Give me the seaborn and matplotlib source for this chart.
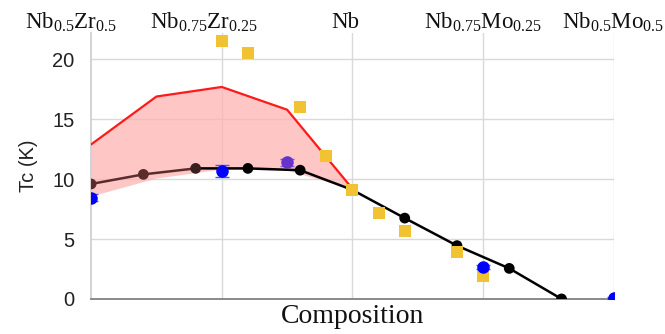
import numpy as np
import pandas as pd
import matplotlib
matplotlib.use("Agg")
import matplotlib.pyplot as plt
import matplotlib.transforms as mtransforms
import seaborn as sns

# --- Data ---
comp_calc = [-0.5, -0.4, -0.3, -0.2, -0.1, 0.0, 0.1, 0.2, 0.3, 0.4]
tc_calc = [9.6, 10.4, 10.9, 10.9, 10.75, 9.1, 6.75, 4.45, 2.55, 0.0]

comp_band = [-0.5, -0.375, -0.25, -0.125, 0.0]
tc_band_upper = [12.9, 16.9, 17.7, 15.8, 9.2]
tc_band_lower = [8.6, 10.1, 10.85, 10.75, 9.2]

comp_exp = [-0.25, -0.2, -0.1, -0.05, 0.0, 0.05, 0.1, 0.2, 0.25]
tc_exp = [21.5, 20.5, 16.0, 11.9, 9.1, 7.2, 5.7, 3.95, 1.9]

comp_blue = [-0.5, -0.25, 0.25, 0.5]
tc_blue = [8.45, 10.7, 2.65, 0.1]
err_blue = [0.3, 0.5, 0.15, 0.1]

comp_purple = [-0.125]
tc_purple = [11.4]
err_purple = [0.3]

top_labels = [r"Nb$_{0.5}$Zr$_{0.5}$", r"Nb$_{0.75}$Zr$_{0.25}$", "Nb",
              r"Nb$_{0.75}$Mo$_{0.25}$", r"Nb$_{0.5}$Mo$_{0.5}$"]
top_label_x = [-0.538, -0.284, -0.014, 0.25, 0.498]
grid_x = [-0.25, 0.0, 0.25, 0.5]

# --- Style ---
sns.set_theme(style="whitegrid")
plt.rcParams['font.family'] = ['Liberation Sans', 'DejaVu Sans']
plt.rcParams['mathtext.fontset'] = 'custom'
plt.rcParams['mathtext.rm'] = 'Liberation Serif'
plt.rcParams['mathtext.it'] = 'Liberation Serif'

fig = plt.figure(figsize=(6.65, 3.34), dpi=100)
ax = fig.add_axes([0.137, 0.105, 0.786, 0.796])

# shaded band
ax.fill_between(comp_band, tc_band_lower, tc_band_upper, color='#ffb3b3', alpha=0.75,
                linewidth=0, zorder=2)
sns.lineplot(x=comp_band, y=tc_band_upper, color='#ff1a1a', linewidth=1.6, ax=ax, zorder=3)

# calculated Tc line (brown on Zr side, black after)
brown = '#5b2c2c'
sns.lineplot(x=comp_calc[:3], y=tc_calc[:3], color=brown, linewidth=1.8, ax=ax, zorder=4)
sns.lineplot(x=comp_calc[2:], y=tc_calc[2:], color='black', linewidth=1.8, ax=ax, zorder=4)
calc_colors = [brown, brown, '#3a1f1f'] + ['black'] * (len(comp_calc) - 3)
ax.scatter(comp_calc, tc_calc, s=60, c=calc_colors, zorder=5, linewidths=0)

# experimental squares
sns.scatterplot(x=comp_exp, y=tc_exp, marker='s', s=75, color='#f1c232',
                edgecolor='none', ax=ax, zorder=6)

# points with error bars
ax.errorbar(comp_blue, tc_blue, yerr=err_blue, fmt='o', color='#0000ff', ms=8,
            ecolor='#5050ff', elinewidth=1, capsize=5, zorder=7)
ax.errorbar(comp_purple, tc_purple, yerr=err_purple, fmt='o', color='#6633cc', ms=8,
            ecolor='#7a55dd', elinewidth=1, capsize=5, zorder=7)

# --- Axes ---
ax.set_xlim(-0.5, 0.5)
ax.set_ylim(0, 22.2)
ax.set_xticks(grid_x)
ax.set_xticklabels([])
ax.set_yticks([0, 5, 10, 15, 20])
ax.tick_params(axis='y', labelsize=14.5, colors='#222222', length=0, pad=12)
ax.tick_params(axis='x', length=0)
ax.grid(True, color='#d9d9d9', linewidth=1)
for s in ['top', 'right']:
    ax.spines[s].set_visible(False)
ax.spines['left'].set_color('#cccccc')
ax.spines['left'].set_linewidth(1.2)
ax.spines['bottom'].set_color('#777777')
ax.spines['bottom'].set_linewidth(1.2)

ax.set_ylabel('Tc (K)', fontsize=14.5, color='#222222', labelpad=10)
ax.set_xlabel('Composition', fontsize=20, family='Liberation Serif', color='#111111',
              labelpad=0)

trans = mtransforms.blended_transform_factory(ax.transData, ax.transAxes)
for lx, lab in zip(top_label_x, top_labels):
    ax.text(lx, 1.04, lab, transform=trans, ha='center', va='center',
            fontsize=16.5, family='Liberation Serif', color='#111111')

fig.savefig('out.png', dpi=100)
